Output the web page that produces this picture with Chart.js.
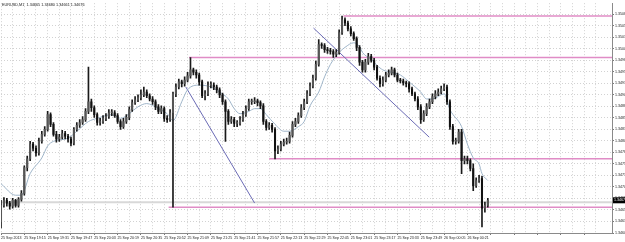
<!DOCTYPE html>
<html>
<head>
<meta charset="utf-8">
<script src="https://cdn.jsdelivr.net/npm/chart.js@4.4.1/dist/chart.umd.min.js"></script>
<style>
html, body { margin: 0; padding: 0; background: #fff; }
#wrap { width: 625px; height: 242px; position: relative; }
</style>
</head>
<body>
<div id="wrap"><canvas id="c"></canvas></div>
<script>
const symbol = 'EURUSD,M1';

const timeLabels = ['25 Sep 2013', '25 Sep 19:15', '25 Sep 19:31', '25 Sep 19:47', '25 Sep 20:03', '25 Sep 20:19',
  '25 Sep 20:35', '25 Sep 20:52', '25 Sep 21:09', '25 Sep 21:25', '25 Sep 21:41', '25 Sep 21:57', '25 Sep 22:13',
  '25 Sep 22:29', '25 Sep 22:45', '25 Sep 23:01', '25 Sep 23:17', '25 Sep 23:33', '25 Sep 23:49', '26 Sep 00:05',
  '26 Sep 00:21'];

const priceTicks = [1.34605, 1.34630, 1.34655, 1.34680, 1.34705, 1.34730, 1.34755, 1.34780, 1.34805, 1.34830,
  1.34855, 1.34880, 1.34905, 1.34930, 1.34955, 1.34980, 1.35005, 1.35030, 1.35055, 1.35080];

const opens = [1.34629, 1.34665, 1.34676, 1.34670, 1.34663, 1.34676, 1.34665, 1.34678, 1.34691, 1.34747,
  1.34766, 1.34798, 1.34789, 1.34779, 1.34804, 1.34819, 1.34830, 1.34862, 1.34841, 1.34819,
  1.34809, 1.34813, 1.34821, 1.34815, 1.34809, 1.34800, 1.34830, 1.34839, 1.34845, 1.34851,
  1.34869, 1.34890, 1.34877, 1.34862, 1.34845, 1.34847, 1.34854, 1.34858, 1.34866, 1.34866,
  1.34860, 1.34847, 1.34836, 1.34847, 1.34856, 1.34873, 1.34888, 1.34894, 1.34899, 1.34905,
  1.34911, 1.34903, 1.34896, 1.34890, 1.34879, 1.34869, 1.34875, 1.34854, 1.34851, 1.34866,
  1.34907, 1.34922, 1.34933, 1.34929, 1.34937, 1.34946, 1.34959, 1.34954, 1.34948, 1.34933,
  1.34903, 1.34907, 1.34926, 1.34926, 1.34922, 1.34916, 1.34905, 1.34890, 1.34869, 1.34847,
  1.34851, 1.34843, 1.34843, 1.34851, 1.34862, 1.34875, 1.34890, 1.34890, 1.34892, 1.34888,
  1.34881, 1.34847, 1.34834, 1.34839, 1.34830, 1.34783, 1.34787, 1.34798, 1.34802, 1.34804,
  1.34817, 1.34841, 1.34847, 1.34860, 1.34877, 1.34890, 1.34907, 1.34924, 1.34941, 1.34971,
  1.35014, 1.35012, 1.35003, 1.35001, 1.34999, 1.34993, 1.34997, 1.35040, 1.35068, 1.35061,
  1.35048, 1.35038, 1.35027, 1.35008, 1.34976, 1.34959, 1.34976, 1.34988, 1.34980, 1.34965,
  1.34941, 1.34929, 1.34937, 1.34948, 1.34952, 1.34959, 1.34948, 1.34937, 1.34935, 1.34931,
  1.34929, 1.34918, 1.34907, 1.34896, 1.34879, 1.34851, 1.34864, 1.34879, 1.34890, 1.34901,
  1.34907, 1.34911, 1.34918, 1.34922, 1.34890, 1.34836, 1.34804, 1.34804, 1.34824, 1.34762,
  1.34766, 1.34762, 1.34745, 1.34708, 1.34719, 1.34723, 1.34659, 1.34665];

const highs = [1.34676, 1.34682, 1.34680, 1.34674, 1.34680, 1.34678, 1.34682, 1.34697, 1.34751, 1.34772,
  1.34804, 1.34802, 1.34794, 1.34811, 1.34826, 1.34836, 1.34869, 1.34866, 1.34845, 1.34826,
  1.34819, 1.34828, 1.34826, 1.34819, 1.34813, 1.34834, 1.34845, 1.34851, 1.34858, 1.34875,
  1.34965, 1.34896, 1.34881, 1.34866, 1.34854, 1.34860, 1.34864, 1.34873, 1.34873, 1.34871,
  1.34864, 1.34851, 1.34854, 1.34862, 1.34879, 1.34894, 1.34901, 1.34905, 1.34916, 1.34922,
  1.34916, 1.34907, 1.34901, 1.34894, 1.34884, 1.34881, 1.34879, 1.34860, 1.34873, 1.34911,
  1.34929, 1.34939, 1.34937, 1.34944, 1.34954, 1.34986, 1.34963, 1.34959, 1.34952, 1.34937,
  1.34914, 1.34933, 1.34933, 1.34931, 1.34926, 1.34920, 1.34909, 1.34894, 1.34873, 1.34858,
  1.34856, 1.34849, 1.34858, 1.34869, 1.34881, 1.34896, 1.34896, 1.34899, 1.34896, 1.34892,
  1.34886, 1.34851, 1.34845, 1.34843, 1.34834, 1.34794, 1.34804, 1.34809, 1.34811, 1.34824,
  1.34847, 1.34854, 1.34866, 1.34884, 1.34896, 1.34914, 1.34931, 1.34948, 1.34978, 1.35025,
  1.35018, 1.35016, 1.35008, 1.35006, 1.35003, 1.35003, 1.35046, 1.35076, 1.35072, 1.35065,
  1.35053, 1.35042, 1.35031, 1.35012, 1.34980, 1.34982, 1.34995, 1.34993, 1.34984, 1.34969,
  1.34946, 1.34944, 1.34954, 1.34959, 1.34965, 1.34963, 1.34952, 1.34941, 1.34939, 1.34935,
  1.34933, 1.34922, 1.34911, 1.34901, 1.34884, 1.34871, 1.34886, 1.34896, 1.34907, 1.34914,
  1.34918, 1.34924, 1.34929, 1.34926, 1.34894, 1.34841, 1.34811, 1.34830, 1.34830, 1.34772,
  1.34772, 1.34766, 1.34755, 1.34725, 1.34730, 1.34728, 1.34672, 1.34680];

const lows = [1.34616, 1.34661, 1.34663, 1.34657, 1.34659, 1.34661, 1.34661, 1.34674, 1.34687, 1.34740,
  1.34762, 1.34783, 1.34772, 1.34774, 1.34800, 1.34815, 1.34826, 1.34836, 1.34815, 1.34802,
  1.34804, 1.34809, 1.34809, 1.34802, 1.34794, 1.34796, 1.34826, 1.34834, 1.34841, 1.34847,
  1.34864, 1.34869, 1.34856, 1.34839, 1.34839, 1.34843, 1.34849, 1.34854, 1.34860, 1.34856,
  1.34843, 1.34830, 1.34832, 1.34843, 1.34851, 1.34869, 1.34884, 1.34890, 1.34894, 1.34901,
  1.34899, 1.34892, 1.34884, 1.34873, 1.34864, 1.34864, 1.34847, 1.34845, 1.34847, 1.34661,
  1.34901, 1.34918, 1.34922, 1.34924, 1.34933, 1.34941, 1.34948, 1.34941, 1.34926, 1.34899,
  1.34894, 1.34903, 1.34920, 1.34916, 1.34909, 1.34899, 1.34884, 1.34804, 1.34841, 1.34843,
  1.34836, 1.34836, 1.34839, 1.34847, 1.34858, 1.34871, 1.34884, 1.34886, 1.34881, 1.34875,
  1.34841, 1.34828, 1.34830, 1.34824, 1.34766, 1.34777, 1.34783, 1.34794, 1.34798, 1.34800,
  1.34813, 1.34836, 1.34843, 1.34856, 1.34873, 1.34886, 1.34903, 1.34920, 1.34937, 1.34967,
  1.35006, 1.34997, 1.34995, 1.34993, 1.34986, 1.34988, 1.34993, 1.35036, 1.35055, 1.35044,
  1.35033, 1.35023, 1.35001, 1.34969, 1.34954, 1.34954, 1.34971, 1.34976, 1.34959, 1.34937,
  1.34922, 1.34924, 1.34933, 1.34944, 1.34948, 1.34944, 1.34933, 1.34931, 1.34926, 1.34922,
  1.34911, 1.34903, 1.34892, 1.34873, 1.34843, 1.34847, 1.34860, 1.34875, 1.34886, 1.34896,
  1.34903, 1.34907, 1.34914, 1.34884, 1.34830, 1.34798, 1.34798, 1.34800, 1.34734, 1.34755,
  1.34755, 1.34740, 1.34697, 1.34704, 1.34715, 1.34618, 1.34650, 1.34661];

const closes = [1.34665, 1.34676, 1.34670, 1.34663, 1.34676, 1.34665, 1.34678, 1.34691, 1.34747, 1.34766,
  1.34798, 1.34789, 1.34779, 1.34804, 1.34819, 1.34830, 1.34862, 1.34841, 1.34819, 1.34809,
  1.34813, 1.34821, 1.34815, 1.34809, 1.34800, 1.34830, 1.34839, 1.34845, 1.34851, 1.34869,
  1.34890, 1.34877, 1.34862, 1.34845, 1.34847, 1.34854, 1.34858, 1.34866, 1.34866, 1.34860,
  1.34847, 1.34836, 1.34847, 1.34856, 1.34873, 1.34888, 1.34894, 1.34899, 1.34905, 1.34911,
  1.34903, 1.34896, 1.34890, 1.34879, 1.34869, 1.34875, 1.34854, 1.34851, 1.34866, 1.34907,
  1.34922, 1.34933, 1.34929, 1.34937, 1.34946, 1.34959, 1.34954, 1.34948, 1.34933, 1.34903,
  1.34907, 1.34926, 1.34926, 1.34922, 1.34916, 1.34905, 1.34890, 1.34869, 1.34847, 1.34851,
  1.34843, 1.34843, 1.34851, 1.34862, 1.34875, 1.34890, 1.34890, 1.34892, 1.34888, 1.34881,
  1.34847, 1.34834, 1.34839, 1.34830, 1.34783, 1.34787, 1.34798, 1.34802, 1.34804, 1.34817,
  1.34841, 1.34847, 1.34860, 1.34877, 1.34890, 1.34907, 1.34924, 1.34941, 1.34971, 1.35014,
  1.35012, 1.35003, 1.35001, 1.34999, 1.34993, 1.34997, 1.35040, 1.35068, 1.35061, 1.35048,
  1.35038, 1.35027, 1.35008, 1.34976, 1.34959, 1.34976, 1.34988, 1.34980, 1.34965, 1.34941,
  1.34929, 1.34937, 1.34948, 1.34952, 1.34959, 1.34948, 1.34937, 1.34935, 1.34931, 1.34929,
  1.34918, 1.34907, 1.34896, 1.34879, 1.34851, 1.34864, 1.34879, 1.34890, 1.34901, 1.34907,
  1.34911, 1.34918, 1.34922, 1.34890, 1.34836, 1.34804, 1.34804, 1.34824, 1.34762, 1.34766,
  1.34762, 1.34745, 1.34708, 1.34719, 1.34723, 1.34659, 1.34665, 1.34676];

// moving average at a few bars
const maBars = [0, 5, 7, 10, 14, 16, 18, 23, 26, 30, 33, 38, 41, 44, 47, 50, 54, 57, 59, 62, 64, 68, 72, 75, 78,
  80, 82, 85, 87, 89, 91, 94, 97, 99, 102, 104, 106, 109, 111, 113, 116, 118, 121, 123, 124, 127, 129, 131, 134,
  137, 140, 144, 146, 148, 152, 154, 158, 160, 162, 164, 165, 167];
const maValues = [1.34712, 1.34687, 1.34687, 1.34734, 1.34768, 1.34794, 1.34804, 1.34811, 1.34826, 1.34847,
  1.34854, 1.34862, 1.34854, 1.34864, 1.34879, 1.34886, 1.34875, 1.34864, 1.34849, 1.34890, 1.34916, 1.34926,
  1.34922, 1.34911, 1.34896, 1.34875, 1.34864, 1.34869, 1.34875, 1.34875, 1.34862, 1.34841, 1.34826, 1.34826,
  1.34836, 1.34847, 1.34881, 1.34911, 1.34944, 1.34971, 1.34997, 1.35008, 1.35018, 1.35010, 1.34997, 1.34982,
  1.34969, 1.34959, 1.34954, 1.34948, 1.34933, 1.34911, 1.34896, 1.34896, 1.34907, 1.34873, 1.34836, 1.34798,
  1.34768, 1.34755, 1.34734, 1.34719];

// horizontal levels (pink), each from a bar to the right edge
const levelPrices = [1.35076, 1.34986, 1.34766, 1.34661];
const levelFromBar = [117.5, 64.5, 92, 57.5];

// trend lines (blue)
const trendFromBar = [63.4, 107.2];
const trendFromPrice = [1.34922, 1.35050];
const trendToBar = [87, 146.9];
const trendToPrice = [1.34670, 1.34813];

const barsInWindow = 209.6;
const barsPerGrid = 4;
const barsPerLabel = 8;

const tickFont = { family: 'Liberation Sans, Arial, sans-serif', size: 3.6 };

const wickData = opens.map((o, i) => ({ x: i, y: [lows[i], highs[i]] }));
const bodyData = opens.map((o, i) => ({ x: i, y: [o, closes[i]] }));
const maData = maBars.map((b, i) => ({ x: b, y: maValues[i] }));

const datasets = [];
trendFromBar.forEach((b, i) => {
  datasets.push({
    type: 'line', label: 'trend' + i, data: [{ x: b, y: trendFromPrice[i] }, { x: trendToBar[i], y: trendToPrice[i] }],
    borderColor: '#6b6bb5', borderWidth: 1, pointRadius: 0, fill: false, order: 4
  });
});
datasets.push({
  type: 'line', label: 'ma', data: maData, borderColor: '#9fb5c9', borderWidth: 1, pointRadius: 0,
  fill: false, tension: 0.4, cubicInterpolationMode: 'monotone', order: 3
});
datasets.push({
  type: 'bar', label: 'wick', data: wickData, backgroundColor: '#1a1a1a', barThickness: 1, grouped: false, order: 2
});
datasets.push({
  type: 'bar', label: 'body', data: bodyData, barThickness: 1.4, minBarLength: 1, grouped: false, order: 1,
  backgroundColor: opens.map((o, i) => closes[i] >= o ? '#555' : '#111')
});

// levels and the current-price line, placed through the chart's own scales
const overlays = {
  id: 'overlays',
  beforeDatasetsDraw(chart) {
    const { ctx, chartArea, scales } = chart;
    ctx.save();
    ctx.beginPath();
    ctx.rect(chartArea.left, chartArea.top, chartArea.right - chartArea.left, chartArea.bottom - chartArea.top);
    ctx.clip();
    const last = closes[closes.length - 1];
    const yl = scales.y.getPixelForValue(last);
    ctx.strokeStyle = '#d8d8d8';
    ctx.lineWidth = 2;
    ctx.beginPath();
    ctx.moveTo(chartArea.left, yl + 2);
    ctx.lineTo(chartArea.right, yl + 2);
    ctx.stroke();
    ctx.strokeStyle = '#e08cc6';
    ctx.lineWidth = 1.5;
    levelPrices.forEach((p, i) => {
      const y = scales.y.getPixelForValue(p);
      ctx.beginPath();
      ctx.moveTo(scales.x.getPixelForValue(levelFromBar[i]), y);
      ctx.lineTo(chartArea.right, y);
      ctx.stroke();
    });
    ctx.restore();
  },
  afterDraw(chart) {
    const { ctx, chartArea, scales } = chart;
    const n = closes.length - 1;
    const last = closes[n];
    const y = scales.y.getPixelForValue(last);
    ctx.save();
    ctx.fillStyle = '#000';
    ctx.fillRect(chartArea.right + 1, y - 3, 12, 6);
    ctx.fillStyle = '#fff';
    ctx.font = '3.6px Liberation Sans, Arial, sans-serif';
    ctx.textBaseline = 'middle';
    ctx.fillText(last.toFixed(5), chartArea.right + 2, y);
    ctx.fillStyle = '#222';
    ctx.textBaseline = 'top';
    ctx.font = '3.8px Liberation Sans, Arial, sans-serif';
    const head = symbol + '  ' + [opens[n], highs[n], lows[n], last].map(v => v.toFixed(5)).join(' ');
    ctx.fillText(head, 2, 3);
    ctx.restore();
  }
};

new Chart(document.getElementById('c'), {
  type: 'bar',
  data: { datasets },
  options: {
    responsive: true,
    maintainAspectRatio: false,
    animation: false,
    events: [],
    layout: { padding: 0 },
    plugins: { legend: { display: false }, tooltip: { enabled: false } },
    scales: {
      x: {
        type: 'linear',
        min: 0,
        max: barsInWindow,
        offset: false,
        afterFit(s) { s.height = 9; },
        ticks: {
          stepSize: barsPerGrid,
          autoSkip: false,
          maxRotation: 0,
          minRotation: 0,
          align: 'start',
          padding: 1,
          color: '#222',
          font: tickFont,
          callback(v) {
            if (v % barsPerLabel !== 0) return '';
            return timeLabels[v / barsPerLabel] || '';
          }
        },
        grid: {
          offset: false,
          color: '#d2d2d2',
          tickLength: 2,
          tickColor: c => (c.tick && c.tick.value % barsPerLabel === 0) ? '#777' : 'rgba(0,0,0,0)'
        },
        border: { display: true, color: '#8a8a8a', dash: [1, 2] }
      },
      y: {
        position: 'right',
        min: 1.34605,
        max: 1.35104,
        afterFit(s) { s.width = 13; },
        afterBuildTicks(s) { s.ticks = priceTicks.map(v => ({ value: v })); },
        ticks: {
          padding: 1,
          color: '#222',
          font: tickFont,
          callback: v => v.toFixed(5)
        },
        grid: { color: '#d2d2d2', tickLength: 2, tickColor: '#777' },
        border: { display: true, color: '#8a8a8a', dash: [1, 2] }
      }
    }
  },
  plugins: [overlays]
});
</script>
</body>
</html>
